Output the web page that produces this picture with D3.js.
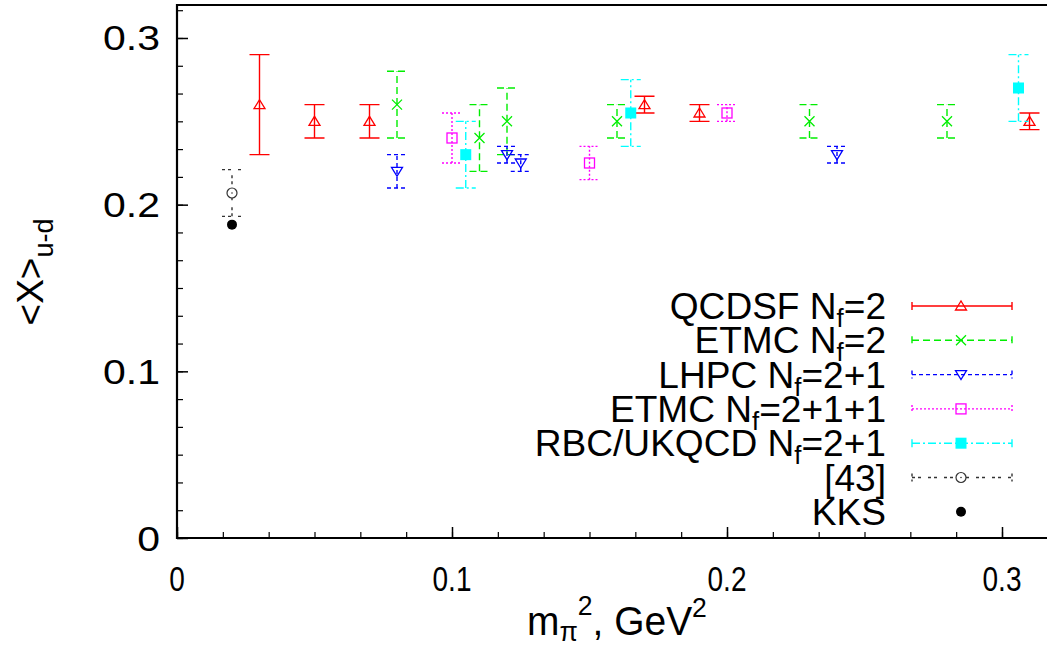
<!DOCTYPE html>
<html><head><meta charset="utf-8">
<script src="https://cdn.jsdelivr.net/npm/d3@7"></script>
<style>body{margin:0;background:#fff;}svg{display:block;}text{font-family:"Liberation Sans",Arial,sans-serif;fill:#000;}</style>
</head><body><svg id="c" width="1047" height="648"></svg>
<script>
// ---- data ----
const xTicks = [0, 0.1, 0.2, 0.3];
const yTicks = [0, 0.1, 0.2, 0.3];
const xTickLabels = ["0", "0.1", "0.2", "0.3"];
const yTickLabels = ["0", "0.1", "0.2", "0.3"];

const qcdsfX = [0.03, 0.05, 0.07, 0.17, 0.19, 0.31];
const qcdsfY = [0.26, 0.25, 0.25, 0.26, 0.255, 0.25];
const qcdsfErr = [0.03, 0.01, 0.01, 0.005, 0.005, 0.005];

const etmc2X = [0.08, 0.11, 0.12, 0.16, 0.23, 0.28];
const etmc2Y = [0.26, 0.24, 0.25, 0.25, 0.25, 0.25];
const etmc2Err = [0.02, 0.02, 0.02, 0.01, 0.01, 0.01];

const lhpcX = [0.08, 0.12, 0.125, 0.24];
const lhpcY = [0.22, 0.23, 0.225, 0.23];
const lhpcErr = [0.01, 0.005, 0.005, 0.005];

const etmc211X = [0.10, 0.15, 0.20];
const etmc211Y = [0.24, 0.225, 0.255];
const etmc211Err = [0.015, 0.01, 0.005];

const rbcX = [0.105, 0.165, 0.306];
const rbcY = [0.23, 0.255, 0.27];
const rbcErr = [0.02, 0.02, 0.02];

const ref43X = [0.02];
const ref43Y = [0.207];
const ref43Err = [0.014];

const kksX = [0.02];
const kksY = [0.188];

const series = [
  {name: ["QCDSF N", "f", "=2"], x: qcdsfX, y: qcdsfY, e: qcdsfErr, color: "#ff0000", dash: null, marker: "triUp"},
  {name: ["ETMC N", "f", "=2"], x: etmc2X, y: etmc2Y, e: etmc2Err, color: "#00ee00", dash: "7,4", marker: "cross"},
  {name: ["LHPC N", "f", "=2+1"], x: lhpcX, y: lhpcY, e: lhpcErr, color: "#0000ff", dash: "4,3", marker: "triDown"},
  {name: ["ETMC N", "f", "=2+1+1"], x: etmc211X, y: etmc211Y, e: etmc211Err, color: "#ff00ff", dash: "2,2", marker: "square"},
  {name: ["RBC/UKQCD N", "f", "=2+1"], x: rbcX, y: rbcY, e: rbcErr, color: "#00ffff", dash: "8,3,2,3", marker: "squareFill"},
  {name: ["[43]"], x: ref43X, y: ref43Y, e: ref43Err, color: "#333333", dash: "3,3,3,7", marker: "circle"},
  {name: ["KKS"], x: kksX, y: kksY, e: null, color: "#000000", dash: null, marker: "dot"}
];

// ---- layout ----
const svg = d3.select("#c");
const L = 177, B = 538, T = 5;
const x = d3.scaleLinear().domain([0, 0.32]).range([L, L + 0.32 * 2750]);
const y = d3.scaleLinear().domain([0, 0.32]).range([B, B - 0.32 * 1666.7]);

// minor ticks
const minorX = d3.range(0, 0.3201, 0.1/6);
const minorY = d3.range(0, 0.3201, 0.1/6);
const axX = d3.axisBottom(x).tickValues(minorX).tickSize(-6).tickFormat("");
const axY = d3.axisLeft(y).tickValues(minorY).tickSize(-6).tickFormat("");
svg.append("g").attr("transform", `translate(0,${B})`).call(axX).call(g => g.select(".domain").remove())
  .selectAll("line").attr("stroke", "#000").attr("stroke-width", 1.2);
svg.append("g").attr("transform", `translate(${L},0)`).call(axY).call(g => g.select(".domain").remove())
  .selectAll("line").attr("stroke", "#000").attr("stroke-width", 1.2);
const majX = d3.axisBottom(x).tickValues(xTicks).tickSize(-11).tickFormat("");
const majY = d3.axisLeft(y).tickValues(yTicks).tickSize(-11).tickFormat("");
svg.append("g").attr("transform", `translate(0,${B})`).call(majX).call(g => g.select(".domain").remove())
  .selectAll("line").attr("stroke", "#000").attr("stroke-width", 1.5);
svg.append("g").attr("transform", `translate(${L},0)`).call(majY).call(g => g.select(".domain").remove())
  .selectAll("line").attr("stroke", "#000").attr("stroke-width", 1.5);

// frame
svg.append("path").attr("d", `M${x(0.32)},${T}H${L}V${B}H${x(0.32)}`)
  .attr("fill", "none").attr("stroke", "#000").attr("stroke-width", 2.2);

// text helper
function scaledText(px, py, sx, anchor, size, parts) {
  const g = svg.append("g").attr("transform", `translate(${px},${py}) scale(${sx},1)`);
  const t = g.append("text").attr("text-anchor", anchor).attr("font-size", size);
  parts.forEach(p => {
    const ts = t.append("tspan").text(p.t);
    if (p.size) ts.attr("font-size", p.size);
    if (p.dy) ts.attr("dy", p.dy);
  });
  return g;
}
xTicks.forEach((v, i) => scaledText(x(v), 591, 0.8, "middle", 35, [{t: xTickLabels[i]}]));
yTicks.forEach((v, i) => scaledText(160, y(v) + 12.5, 1.17, "end", 35, [{t: yTickLabels[i]}]));

// axis titles
scaledText(527, 635, 0.95, "start", 41, [
  {t: "m"}, {t: "π", size: 28, dy: 6}, {t: "2", size: 28, dy: -26}, {t: ", GeV", dy: 20}, {t: "2", size: 28, dy: -18}
]);
{
  const g = svg.append("g").attr("transform", `translate(43,272) rotate(-90)`);
  const t = g.append("text").attr("text-anchor", "middle").attr("font-size", 37);
  t.append("tspan").text("<X>");
  t.append("tspan").text("u-d").attr("font-size", 27).attr("dy", 10);
}

// markers
function drawMarker(g, m, cx, cy, color) {
  if (m === "triUp") {
    g.append("path").attr("d", `M${cx - 5.5},${cy + 4}L${cx + 5.5},${cy + 4}L${cx},${cy - 5}Z`)
      .attr("fill", "none").attr("stroke", color).attr("stroke-width", 1.3);
  } else if (m === "triDown") {
    g.append("path").attr("d", `M${cx - 5.5},${cy - 4}L${cx + 5.5},${cy - 4}L${cx},${cy + 5}Z`)
      .attr("fill", "none").attr("stroke", color).attr("stroke-width", 1.3);
  } else if (m === "cross") {
    g.append("path").attr("d", `M${cx - 5},${cy - 5}L${cx + 5},${cy + 5}M${cx - 5},${cy + 5}L${cx + 5},${cy - 5}`)
      .attr("stroke", color).attr("stroke-width", 1.3);
  } else if (m === "square") {
    g.append("rect").attr("x", cx - 5).attr("y", cy - 5).attr("width", 10).attr("height", 10)
      .attr("fill", "none").attr("stroke", color).attr("stroke-width", 1.3);
  } else if (m === "squareFill") {
    g.append("rect").attr("x", cx - 5.5).attr("y", cy - 5.5).attr("width", 11).attr("height", 11)
      .attr("fill", color);
  } else if (m === "circle") {
    g.append("circle").attr("cx", cx).attr("cy", cy).attr("r", 5)
      .attr("fill", "#fff").attr("stroke", color).attr("stroke-width", 1.2);
    g.append("circle").attr("cx", cx).attr("cy", cy).attr("r", 0.8).attr("fill", color);
  } else if (m === "dot") {
    g.append("circle").attr("cx", cx).attr("cy", cy).attr("r", 5).attr("fill", color);
  }
}

// data
const capW = 10;
series.forEach(s => {
  const g = svg.append("g");
  s.x.forEach((xv, i) => {
    const cx = x(xv), cy = y(s.y[i]);
    if (s.e) {
      const y1 = y(s.y[i] + s.e[i]), y0 = y(s.y[i] - s.e[i]);
      g.append("path")
        .attr("d", `M${cx},${y0}V${y1}M${cx - capW},${y1}H${cx + capW}M${cx - capW},${y0}H${cx + capW}`)
        .attr("fill", "none").attr("stroke", s.color).attr("stroke-width", 1.4)
        .attr("stroke-dasharray", s.dash);
    }
    drawMarker(g, s.marker, cx, cy, s.color);
  });
});

// legend
const legY0 = 306, legDY = 34.3, legX1 = 912, legX2 = 1012, legXm = 961, legTextX = 886;
series.forEach((s, i) => {
  const ly = legY0 + i * legDY;
  const g = svg.append("g");
  if (s.e) {
    g.append("path").attr("d", `M${legX1},${ly}H${legX2}M${legX1},${ly - 4}V${ly + 4}M${legX2},${ly - 4}V${ly + 4}`)
      .attr("fill", "none").attr("stroke", s.color).attr("stroke-width", 1.4).attr("stroke-dasharray", s.dash);
  }
  drawMarker(g, s.marker, legXm, ly, s.color);
  const parts = s.name.length === 3
    ? [{t: s.name[0]}, {t: s.name[1], size: 25, dy: 8}, {t: s.name[2], dy: -8}]
    : [{t: s.name[0]}];
  scaledText(legTextX, ly + 13, 1.03, "end", 36, parts);
});
</script></body></html>
